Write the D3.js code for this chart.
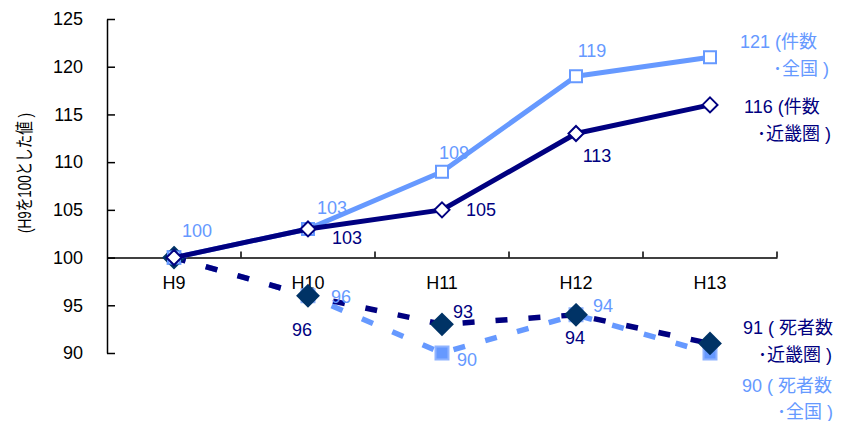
<!DOCTYPE html>
<html>
<head>
<meta charset="utf-8">
<script src="https://cdn.jsdelivr.net/npm/d3@7"></script>
<style>
  html, body { margin: 0; padding: 0; background: #fff; }
  svg { display: block; font-family: "Liberation Sans", Arial, "Noto Sans CJK JP", sans-serif; }
</style>
</head>
<body>
<svg id="chart" width="846" height="421"></svg>
<script>
// Index values, H9 = 100
const categories = ["H9", "H10", "H11", "H12", "H13"];
const casesNational = [100, 103, 109, 119, 121];   // 件数・全国
const casesKinki = [100, 103, 105, 113, 116];      // 件数・近畿圏
const deathsKinki = [100, 96, 93, 94, 91];         // 死者数・近畿圏
const deathsNational = [100, 96, 90, 94, 90];      // 死者数・全国
const yTicks = [90, 95, 100, 105, 110, 115, 120, 125];
const yTitle = "(H9を100とした値 )";
const endLabels = {
  casesNational: ["121 (件数", "･全国 )"],
  casesKinki: ["116 (件数", "･近畿圏 )"],
  deathsKinki: ["91 ( 死者数", "･近畿圏 )"],
  deathsNational: ["90 ( 死者数", "･全国 )"]
};

const LIGHT = "#6699ff";
const NAVY = "#000080";
const DEEP = "#003366";

const svg = d3.select("#chart");
const x = d3.scaleBand().domain(categories).range([107, 777]).padding(0);
const y = d3.scaleLinear().domain([90, 125]).range([353, 19]);
const cx = c => x(c) + x.bandwidth() / 2;

// y axis, ticks pointing inward
const yAxis = svg.append("g")
  .attr("transform", "translate(107,0)")
  .call(d3.axisLeft(y).tickValues(yTicks).tickSizeInner(-8).tickSizeOuter(0).tickPadding(24));
yAxis.selectAll("text").attr("font-size", 18).attr("fill", "#000")
  .style("font-family", "'Liberation Sans', Arial, sans-serif");
yAxis.selectAll("line, path").attr("stroke", "#000").attr("stroke-width", 1.5);

// x axis crossing at 100
const xAxis = svg.append("g")
  .attr("transform", `translate(0,${y(100)})`)
  .call(d3.axisBottom(x).tickSize(0).tickPadding(19));
xAxis.select("path").attr("stroke", "#000").attr("stroke-width", 1.5);
xAxis.selectAll("text").attr("font-size", 18).attr("fill", "#000")
  .style("font-family", "'Liberation Sans', Arial, sans-serif");
// category boundary ticks, pointing up
const bounds = categories.map(c => x(c)).concat([x.range()[1]]).slice(1);
xAxis.selectAll(".bound").data(bounds).join("line")
  .attr("class", "bound")
  .attr("x1", d => d).attr("x2", d => d)
  .attr("y1", 0).attr("y2", -6)
  .attr("stroke", "#000").attr("stroke-width", 1.5);

// y axis title, condensed along its length
svg.append("text")
  .attr("transform", `translate(31,${173}) rotate(-90)`)
  .attr("text-anchor", "middle")
  .attr("font-size", 18)
  .attr("textLength", 120)
  .attr("lengthAdjust", "spacingAndGlyphs")
  .attr("fill", "#000")
  .text(yTitle);

const line = d3.line().x((d, i) => cx(categories[i])).y(d => y(d));

function drawLine(values, color, dashed) {
  svg.append("path")
    .datum(values)
    .attr("d", line)
    .attr("fill", "none")
    .attr("stroke", color)
    .attr("stroke-width", dashed ? 5.5 : 5)
    .attr("stroke-dasharray", dashed ? "12,21" : null)
    .attr("stroke-linejoin", "round");
}

const squareSym = d3.symbol().type(d3.symbolSquare);
const diamondPath = r => `M0,${-r}L${r},0L0,${r}L${-r},0Z`;

function drawSquares(values, size, fill, stroke) {
  svg.append("g").selectAll("path").data(values).join("path")
    .attr("transform", (d, i) => `translate(${cx(categories[i])},${y(d)})`)
    .attr("d", squareSym.size(size * size)())
    .attr("fill", fill).attr("stroke", stroke).attr("stroke-width", 2);
}
function drawDiamonds(values, r, fill, stroke) {
  svg.append("g").selectAll("path").data(values).join("path")
    .attr("transform", (d, i) => `translate(${cx(categories[i])},${y(d)})`)
    .attr("d", diamondPath(r))
    .attr("fill", fill).attr("stroke", stroke).attr("stroke-width", 2);
}

// death counts (dashed)
drawLine(deathsNational, LIGHT, true);
drawSquares(deathsNational, 13, LIGHT, "#8fb3ff");
drawLine(deathsKinki, NAVY, true);
drawDiamonds(deathsKinki, 10.5, DEEP, DEEP);

// case counts (solid)
drawLine(casesNational, LIGHT, false);
drawSquares(casesNational, 12, "#fff", LIGHT);
drawLine(casesKinki, NAVY, false);
drawDiamonds(casesKinki, 7.5, "#fff", NAVY);

// data labels: [series values, color, index, dx, dy]
const labelLayout = [
  [casesNational, LIGHT, 0, 23, -21],
  [casesNational, LIGHT, 1, 24, -15],
  [casesNational, LIGHT, 2, 12, -13],
  [casesNational, LIGHT, 3, 16, -19],
  [casesKinki, NAVY, 1, 39, 15],
  [casesKinki, NAVY, 2, 39, 6],
  [casesKinki, NAVY, 3, 21, 28],
  [deathsKinki, NAVY, 1, -6, 40],
  [deathsKinki, NAVY, 2, 21, -6],
  [deathsKinki, NAVY, 3, -1, 29],
  [deathsNational, LIGHT, 1, 33, 7],
  [deathsNational, LIGHT, 2, 25, 13],
  [deathsNational, LIGHT, 3, 27, -3]
];
svg.append("g").selectAll("text").data(labelLayout).join("text")
  .attr("x", d => cx(categories[d[2]]) + d[3])
  .attr("y", d => y(d[0][d[2]]) + d[4])
  .attr("text-anchor", "middle")
  .attr("font-size", 18)
  .attr("fill", d => d[1])
  .text(d => d[0][d[2]]);

// end-of-series labels: [lines, values, color, dx1, dy1, dx2, dy2]
const last = categories.length - 1;
const endLayout = [
  [endLabels.casesNational, casesNational, LIGHT, 30, -9, 63, 18],
  [endLabels.casesKinki, casesKinki, NAVY, 34, 8, 47, 35],
  [endLabels.deathsKinki, deathsKinki, NAVY, 33, -9, 48, 18],
  [endLabels.deathsNational, deathsNational, LIGHT, 32, 39, 67, 65]
];
endLayout.forEach(([lines, values, color, dx1, dy1, dx2, dy2]) => {
  const px = cx(categories[last]);
  const py = y(values[last]);
  const g = svg.append("g").attr("fill", color).attr("font-size", 18);
  g.append("text").attr("x", px + dx1).attr("y", py + dy1).text(lines[0]);
  g.append("text").attr("x", px + dx2).attr("y", py + dy2).text(lines[1]);
});
</script>
</body>
</html>
